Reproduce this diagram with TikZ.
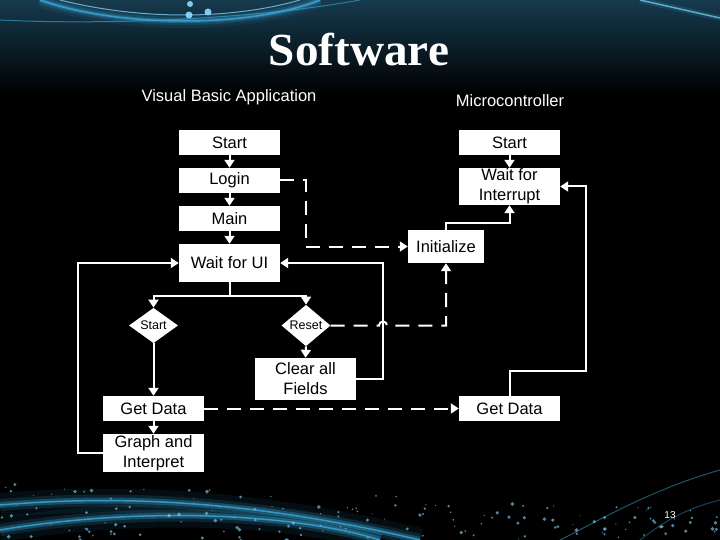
\documentclass[tikz,border=0pt]{standalone}
\usepackage{fontspec}
\setmainfont{Liberation Sans}
\newfontfamily\titlefont{Liberation Serif}
\usetikzlibrary{arrows.meta,shapes.geometric}
\definecolor{glow}{RGB}{60,170,220}
\definecolor{glowlight}{RGB}{140,220,255}
\definecolor{deepteal}{RGB}{22,58,78}
\begin{document}
\begin{tikzpicture}[x=1pt,y=-1pt,
  box/.style={fill=white,text=black,inner sep=0pt,minimum width=101pt,minimum height=25pt,align=center,font=\fontsize{16.5}{20}\selectfont},
  dia/.style={diamond,fill=white,text=black,inner sep=0pt,minimum width=49pt,minimum height=35pt,font=\fontsize{12.5}{14}\selectfont},
  ln/.style={draw=white,line width=2pt},
  arr/.style={ln,-{Triangle[width=10pt,length=8pt]}},
  darr/.style={arr,dash pattern=on 14pt off 9pt},
  lbl/.style={text=white,font=\fontsize{16.5}{20}\selectfont}]
\useasboundingbox (0,0) rectangle (720,540);
% background
\fill[black] (0,0) rectangle (720,540);
\shade[top color=deepteal,bottom color=black] (0,0) rectangle (720,95);
\foreach \w/\o in {14/0.08,8/0.15,4/0.3,1.5/0.8}{
  \draw[glow,line width=\w pt,opacity=\o] (40,0) .. controls (120,28) and (250,28) .. (320,0);
}
\draw[glowlight,line width=1pt,opacity=0.7] (60,0) .. controls (140,20) and (230,20) .. (300,0);
\draw[glow,line width=1pt,opacity=0.6] (0,20) .. controls (100,25) and (250,20) .. (360,0);
\draw[glowlight,line width=1.5pt,opacity=0.7] (640,0) -- (720,18);
\draw[glow,line width=6pt,opacity=0.15] (640,0) -- (720,18);
\fill[glowlight,opacity=0.9] (190,4) circle (3) (189,15) circle (3.5) (208,12) circle (3.5);
% bottom swirl
\foreach \w/\o in {24/0.08,12/0.15,6/0.3,1.5/0.8}{
  \draw[glow,line width=\w pt,opacity=\o] (0,505) .. controls (120,495) and (250,500) .. (420,540);
  \draw[glow,line width=\w pt,opacity=\o] (0,530) .. controls (150,505) and (300,515) .. (380,540);
}
\draw[glow,line width=1pt,opacity=0.5] (720,470) .. controls (650,490) and (600,520) .. (560,540);
\draw[glow,line width=1pt,opacity=0.4] (720,500) .. controls (680,510) and (660,525) .. (640,540);
\pgfmathsetseed{13}
\foreach \i in {1,...,160}{
  \pgfmathsetmacro{\px}{rnd*720}
  \pgfmathsetmacro{\py}{540-rnd*(60-\px/24)}
  \pgfmathsetmacro{\pr}{0.5+rnd*1.5}
  \fill[glowlight,opacity=0.6] (\px,\py) circle (\pr);
}
% title and headings
\node[text=white,font=\titlefont\bfseries\fontsize{40}{44}\selectfont,yscale=1.15,xscale=1.18] (title) at (359,50) {Software};
\node[lbl] (vb) at (229,97) {Visual Basic Application};
\node[lbl] (mc) at (510,101) {Microcontroller};
\node[text=white,font=\fontsize{10}{12}\selectfont] (pg) at (670,515) {13};
% left column
\node[box] (s1) at (229.5,142.5) {Start};
\node[box] (login) at (229.5,180.5) {Login};
\node[box] (main) at (229.5,218.5) {Main};
\node[box,minimum height=38pt] (wait) at (229.5,263) {Wait for UI};
\node[dia] (d1) at (153.5,325.5) {Start};
\node[dia] (d2) at (306,325.5) {Reset};
\node[box,minimum height=42pt] (clear) at (305.5,379) {Clear all\\Fields};
\node[box] (gd1) at (153.5,408.5) {Get Data};
\node[box,minimum height=38pt] (graph) at (153.5,453) {Graph and\\Interpret};
% right column
\node[box] (s2) at (509.5,142.5) {Start};
\node[box,minimum height=37pt] (wint) at (509.5,186.5) {Wait for\\Interrupt};
\node[box,minimum width=76pt,minimum height=33pt] (init) at (446,246.5) {Initialize};
\node[box] (gd2) at (509.5,408.5) {Get Data};
% coordinates
\coordinate (sp) at (229.5,296);
\coordinate (gl) at (78,453);
\coordinate (cr) at (383,379);
\coordinate (lg) at (306,180.5);
\coordinate (hopa) at (379,325.5);
\coordinate (rc) at (446,325.5);
\coordinate (ic) at (446,223);
\coordinate (rr) at (586,371);
% connectors
\draw[arr] (s1) -- (login);
\draw[arr] (login) -- (main);
\draw[arr] (main) -- (wait);
\draw[ln] (wait.south) -- (sp);
\draw[arr] (sp) -| (d1.north);
\draw[arr] (sp) -| (d2.north);
\draw[arr] (d1.south) -- (gd1.north);
\draw[arr] (gd1) -- (graph);
\draw[arr] (d2.south) -- (clear.north);
\draw[arr] (graph.west) -- (gl) |- (wait.west);
\draw[arr] (clear.east) -- (cr) |- (wait.east);
\draw[darr] (login.east) -- (lg) |- (init.west);
\draw[darr] (d2.east) -- (hopa) arc[start angle=180,end angle=0,radius=4pt] -- (rc) -- (init.south);
\draw[arr] (init.north) -- (ic) -| (wint.south);
\draw[arr] (s2) -- (wint);
\draw[darr] (gd1.east) -- (gd2.west);
\draw[arr] (gd2.north) |- (rr) |- (wint.east);
\end{tikzpicture}
\end{document}
